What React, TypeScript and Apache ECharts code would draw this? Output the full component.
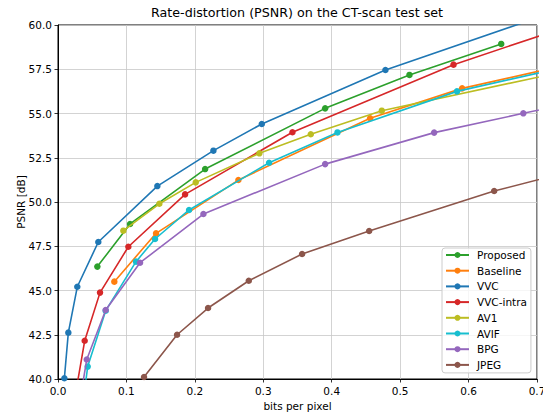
import React, { useEffect, useRef } from "react";
import * as echarts from "echarts";

const FONT = "DejaVu Sans";

const seriesNames = ["Proposed", "Baseline", "VVC", "VVC-intra", "AV1", "AVIF", "BPG", "JPEG"];
const seriesColors = ["#2ca02c", "#ff7f0e", "#1f77b4", "#d62728", "#bcbd22", "#17becf", "#9467bd", "#8c564b"];

const xTicks = [0, 0.1, 0.2, 0.3, 0.4, 0.5, 0.6, 0.7];
const yTicks = [40, 42.5, 45, 47.5, 50, 52.5, 55, 57.5, 60];

// bits per pixel / PSNR per codec (points outside the axes are clipped, as in the original)
const proposedBpp = [0.0575, 0.1053, 0.215, 0.3904, 0.5136, 0.6477];
const proposedPsnr = [46.35, 48.76, 51.86, 55.29, 57.18, 58.93];

const baselineBpp = [0.0823, 0.1433, 0.2636, 0.4561, 0.5906, 0.8];
const baselinePsnr = [45.5, 48.23, 51.24, 54.73, 56.42, 58.24];

const vvcBpp = [0.0093, 0.0151, 0.0282, 0.0589, 0.1452, 0.2271, 0.2978, 0.4785, 0.75];
const vvcPsnr = [40.04, 42.62, 45.21, 47.74, 50.9, 52.9, 54.41, 57.46, 61.07];

const vvcIntraBpp = [0.02, 0.039, 0.0614, 0.1028, 0.1857, 0.3426, 0.578, 0.8];
const vvcIntraPsnr = [37.9, 42.16, 44.88, 47.47, 50.43, 53.94, 57.76, 60.63];

const av1Bpp = [0.0955, 0.1481, 0.2013, 0.2943, 0.3694, 0.4732, 0.8];
const av1Psnr = [48.38, 49.9, 51.11, 52.75, 53.83, 55.16, 57.87];

const avifBpp = [0.037, 0.0434, 0.0697, 0.114, 0.1418, 0.1915, 0.3085, 0.4084, 0.583, 0.8];
const avifPsnr = [38.8, 40.7, 43.86, 46.63, 47.91, 49.55, 52.22, 53.93, 56.25, 58.14];

const bpgBpp = [0.033, 0.042, 0.0697, 0.1199, 0.2125, 0.3904, 0.5497, 0.68, 0.8];
const bpgPsnr = [39.0, 41.1, 43.9, 46.57, 49.32, 52.14, 53.92, 55.01, 56.0];

const jpegBpp = [0.1257, 0.174, 0.2193, 0.2788, 0.3567, 0.4547, 0.6374, 0.8];
const jpegPsnr = [40.11, 42.5, 44.01, 45.55, 47.06, 48.36, 50.62, 52.23];

const allBpp = [proposedBpp, baselineBpp, vvcBpp, vvcIntraBpp, av1Bpp, avifBpp, bpgBpp, jpegBpp];
const allPsnr = [proposedPsnr, baselinePsnr, vvcPsnr, vvcIntraPsnr, av1Psnr, avifPsnr, bpgPsnr, jpegPsnr];

export default function App() {
  const ref = useRef<HTMLDivElement>(null);
  useEffect(() => {
    if (!ref.current) return;
    const chart = echarts.init(ref.current, null, { renderer: "svg" });
    const series = seriesNames.map((name, i) => ({
      name,
      type: "line",
      data: allBpp[i].map((x, j) => [x, allPsnr[i][j]]),
      symbol: "circle",
      symbolSize: 6.5,
      showSymbol: true,
      clip: true,
      color: seriesColors[i],
      itemStyle: { color: seriesColors[i] },
      lineStyle: { color: seriesColors[i], width: 1.6 },
      emphasis: { disabled: true },
      z: 2 + i * 0.01,
    }));
    chart.setOption({
      animation: false,
      textStyle: { fontFamily: FONT },
      title: {
        text: "Rate-distortion (PSNR) on the CT-scan test set",
        left: 151,
        top: 6,
        padding: 0,
        textStyle: { fontFamily: FONT, fontSize: 12.7, fontWeight: "normal", color: "#000" },
      },
      grid: {
        left: 58,
        right: 6,
        top: 25,
        bottom: 33,
        containLabel: false,
        outerBoundsMode: "none",
        show: true,
        borderColor: "#000",
        borderWidth: 1,
        backgroundColor: "#fff",
      },
      legend: {
        orient: "vertical",
        left: 442,
        top: 248,
        padding: [1, 4, 2, 3],
        itemWidth: 23,
        itemHeight: 7.5,
        itemGap: 3.7,
        backgroundColor: "rgba(255,255,255,0.8)",
        borderColor: "#cccccc",
        borderWidth: 1,
        borderRadius: 3,
        textStyle: { fontFamily: FONT, fontSize: 10.5, color: "#000", lineHeight: 12, padding: [0, 0, 0, 3] },
        data: seriesNames,
      },
      xAxis: {
        type: "value",
        min: xTicks[0],
        max: xTicks[xTicks.length - 1],
        interval: 0.1,
        name: "bits per pixel",
        nameLocation: "middle",
        nameGap: 20,
        nameTextStyle: { fontFamily: FONT, fontSize: 10.5, color: "#000" },
        axisLine: { show: true, lineStyle: { color: "#000", width: 1 } },
        axisTick: { show: true, inside: false, length: 3.5, lineStyle: { color: "#000", width: 0.8 } },
        axisLabel: {
          fontFamily: FONT,
          fontSize: 10.5,
          color: "#000",
          margin: 6,
          formatter: (v: number) => v.toFixed(1),
        },
        splitLine: { show: true, lineStyle: { color: "#c8c8c8", width: 0.8 } },
      },
      yAxis: {
        type: "value",
        min: yTicks[0],
        max: yTicks[yTicks.length - 1],
        interval: 2.5,
        name: "PSNR [dB]",
        nameLocation: "middle",
        nameGap: 32,
        nameMoveOverlap: false,
        nameTextStyle: { fontFamily: FONT, fontSize: 10.5, color: "#000" },
        axisLine: { show: true, lineStyle: { color: "#000", width: 1 } },
        axisTick: { show: true, inside: false, length: 3.5, lineStyle: { color: "#000", width: 0.8 } },
        axisLabel: {
          fontFamily: FONT,
          fontSize: 10.5,
          color: "#000",
          margin: 6,
          formatter: (v: number) => v.toFixed(1),
        },
        splitLine: { show: true, lineStyle: { color: "#c8c8c8", width: 0.8 } },
      },
      series,
    });
    return () => chart.dispose();
  }, []);
  return <div ref={ref} style={{ width: 543, height: 412, position: "absolute", left: 0, top: 0 }} />;
}
